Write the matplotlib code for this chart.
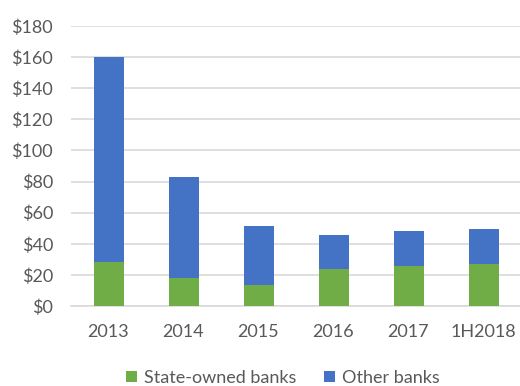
import matplotlib
matplotlib.use("Agg")
import matplotlib.pyplot as plt
from matplotlib.ticker import FuncFormatter

categories = ["2013", "2014", "2015", "2016", "2017", "1H2018"]
state_owned = [28.5, 18.0, 13.5, 23.6, 25.7, 27.2]
other_banks = [131.3, 65.0, 38.0, 22.0, 22.3, 22.1]

plt.rcParams['font.family'] = ['Lato', 'DejaVu Sans']
text_color = "#595959"

fig = plt.figure(figsize=(5.2, 3.86), dpi=100)
ax = fig.add_axes([71/520, 1 - 306/386, 450/520, 280/386])

x = list(range(len(categories)))
ax.bar(x, state_owned, width=0.4, color="#70AD47", label="State-owned banks", zorder=3)
ax.bar(x, other_banks, width=0.4, bottom=state_owned, color="#4472C4", label="Other banks", zorder=3)

ax.set_ylim(0, 180)
ax.set_xlim(-0.5, len(categories) - 0.5)
ax.set_yticks(range(0, 181, 20))
ax.yaxis.set_major_formatter(FuncFormatter(lambda v, p: f"${int(v)}"))
ax.set_xticks(x)
ax.set_xticklabels(categories)
ax.grid(axis="y", color="#d9d9d9", linewidth=1.2, zorder=0)
for s in ["top", "right", "left"]:
    ax.spines[s].set_visible(False)
ax.spines["bottom"].set_color("#d9d9d9")
ax.spines["bottom"].set_linewidth(1.2)
ax.tick_params(axis="both", length=0, labelsize=13, labelcolor=text_color)
ax.tick_params(axis="y", pad=13)
ax.tick_params(axis="x", pad=13)

fig.legend(loc="center", bbox_to_anchor=(283/520, 1 - 378/386), ncol=2, frameon=False,
           fontsize=13, labelcolor=text_color, handlelength=0.6, handleheight=0.6,
           columnspacing=1.5, handletextpad=0.4, borderpad=0, borderaxespad=0)

fig.savefig("out.png", dpi=100)
